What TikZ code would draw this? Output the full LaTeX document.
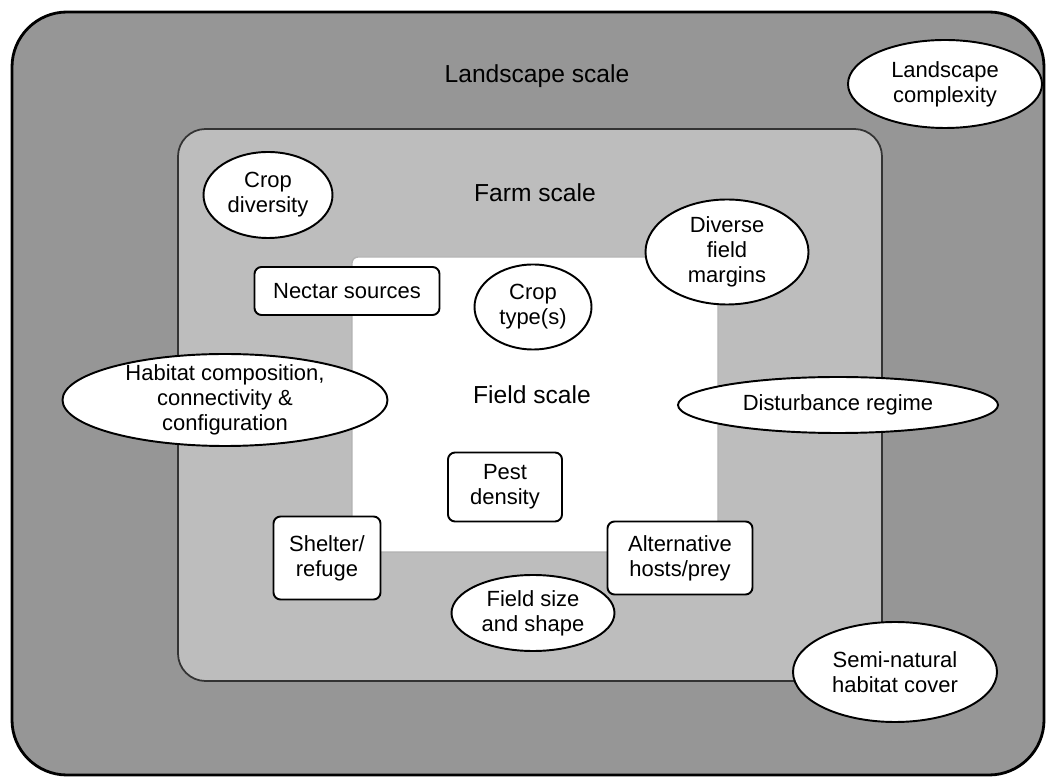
\documentclass[tikz,border=0pt]{standalone}
\usepackage{fontspec}
\setmainfont{Liberation Sans}
\usetikzlibrary{shapes.geometric}
\definecolor{landgray}{gray}{0.59}
\definecolor{farmgray}{gray}{0.74}

\begin{document}
\begin{tikzpicture}[x=0.2mm,y=-0.2mm,
  font=\fontsize{12.5}{14.2}\selectfont,
  scalename/.style={font=\fontsize{14}{16}\selectfont},
  oval/.style={ellipse,draw,line width=1.1pt,fill=white,inner sep=0pt,align=center},
  factorbox/.style={rectangle,draw,line width=1.1pt,fill=white,rounded corners=4pt,inner sep=0pt,align=center}]
\useasboundingbox (0,0) rectangle (1046,778);
% Echelles emboitees
\draw[fill=landgray,line width=1.6pt,rounded corners=1.1cm] (12,12) rectangle (1044,775);
\draw[fill=farmgray,draw=gray!40!black,line width=1pt,rounded corners=0.55cm] (178,129) rectangle (882,681);
\draw[fill=white,draw=gray!60,line width=0.8pt,rounded corners=0.12cm] (352,257) rectangle (718,552);
\node[scalename] (landscale) at (537,76) {Landscape scale};
\node[scalename] (farmscale) at (535,193) {Farm scale};
\node[scalename] (fieldscale) at (532,395) {Field scale};
% Facteurs
\node[oval,minimum width=3.88cm,minimum height=1.76cm] (landcomp) at (945,84) {Landscape\\complexity};
\node[oval,minimum width=2.58cm,minimum height=1.72cm] (cropdiv) at (268,195) {Crop\\diversity};
\node[oval,minimum width=2.34cm,minimum height=1.7cm] (croptype) at (533,307) {Crop\\type(s)};
\node[oval,minimum width=3.26cm,minimum height=2.1cm] (margins) at (727,252) {Diverse\\field\\margins};
\node[oval,minimum width=6.5cm,minimum height=1.84cm,inner ysep=-2pt] (habitat) at (225,400) {Habitat composition,\\connectivity \&\\configuration};
\node[oval,minimum width=6.4cm,minimum height=1.12cm] (disturb) at (838,405) {Disturbance regime};
\node[oval,minimum width=3.26cm,minimum height=1.52cm] (fieldsize) at (533,613) {Field size\\and shape};
\node[oval,minimum width=4.08cm,minimum height=2cm] (seminat) at (895,672) {Semi-natural\\habitat cover};
\node[factorbox,minimum width=3.7cm,minimum height=0.96cm] (nectar) at (347,291) {Nectar sources};
\node[factorbox,minimum width=2.28cm,minimum height=1.38cm] (pest) at (505,487) {Pest\\density};
\node[factorbox,minimum width=2.14cm,minimum height=1.66cm] (shelter) at (327,558) {Shelter/\\refuge};
\node[factorbox,minimum width=2.9cm,minimum height=1.46cm] (althosts) at (680,558) {Alternative\\hosts/prey};
\end{tikzpicture}
\end{document}
